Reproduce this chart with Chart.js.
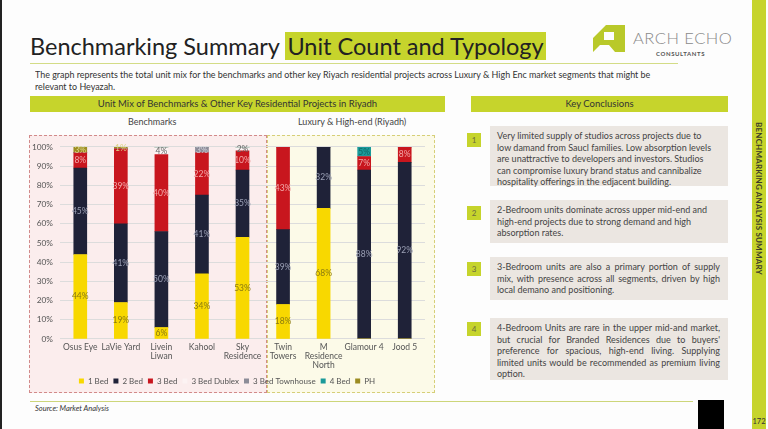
<!DOCTYPE html>
<html>
<head>
<meta charset="utf-8">
<script src="https://cdn.jsdelivr.net/npm/chart.js@4/dist/chart.umd.min.js"></script>
<style>
  html, body { margin: 0; padding: 0; }
  body { width: 768px; height: 429px; position: relative; overflow: hidden; background: #fdfdfd; font-family: Lato, "Open Sans", sans-serif; color: #333; }
  .abs { position: absolute; }
  .lime { background: #c6d42c; }
  #title { left: 30px; top: 31px; font-size: 23.5px; color: #222; white-space: nowrap; line-height: 30px; }
  #title .hl { background: #c6d42c; padding: 0 2px; }
  #rule { left: 30px; top: 63px; width: 648px; height: 1px; background: #d3dc86; }
  #sub { left: 35px; top: 69px; font-size: 9px; line-height: 12px; color: #333; white-space: nowrap; transform-origin: 0 0; }
  .bar { height: 16px; line-height: 16px; text-align: center; font-size: 9.5px; color: #333; }
  .cap { font-size: 9px; color: #444; }
  .num { width: 14px; height: 14px; line-height: 14px; text-align: center; font-size: 8px; color: #6b6b40; }
  .box { background: #ebe6e1; font-size: 9px; line-height: 11.5px; color: #444; padding: 4px 8px 0 7px; box-sizing: border-box; }
  .box.j div { text-align: justify; text-align-last: justify; }
  .box.j div:last-child { text-align-last: left; }
  #band { left: 752px; top: 0; width: 14px; height: 429px; }
  #bandtxt { left: 759px; top: 122px; transform: rotate(90deg); transform-origin: 0 0; font-size: 8px; font-weight: bold; color: #3a3a2a; white-space: nowrap; letter-spacing: 0.2px; line-height: 8px; margin-left: 4px; }
</style>
</head>
<body>
<div class="abs" style="left:0;top:0;width:2px;height:429px;background:#222;"></div>

<div id="title" class="abs">Benchmarking Summary <span class="hl">Unit Count and Typology</span></div>
<svg class="abs" style="left:0;top:0" width="768" height="80">
  <polygon points="593,38 606,25 625,25 625,52 615,52 609,45 600,45 593,52" fill="#b9c92a"/>
  <rect x="604" y="32" width="10" height="8" fill="#fdfdfd"/>
</svg>
<div class="abs" style="left:633px;top:28px;font-size:16.5px;color:#8a8a8a;letter-spacing:0.5px;font-weight:300;">ARCH ECHO</div>
<div class="abs" style="left:656px;top:50px;font-size:6px;font-weight:bold;color:#555;letter-spacing:0.6px;">CONSULTANTS</div>
<div id="rule" class="abs"></div>
<div id="sub" class="abs">The graph represents the total unit mix for the benchmarks and other key Riyach residential projects across Luxury &amp; High Enc market segments that might be<br>relevant to Heyazah.</div>

<div class="abs lime bar" style="left:30px;top:96px;width:415px;">Unit Mix of Benchmarks &amp; Other Key Residential Projects in Riyadh</div>
<div class="abs lime bar" style="left:471px;top:96px;width:257px;">Key Conclusions</div>
<div class="abs cap" style="left:128px;top:116px;">Benchmarks</div>
<div class="abs cap" style="left:298px;top:116px;">Luxury &amp; High-end (Riyadh)</div>

<div class="abs" style="left:29px;top:135px;width:238px;height:258px;background:#fbeded;border:1px dashed #d28a8a;box-sizing:border-box;"></div>
<div class="abs" style="left:267px;top:135px;width:168px;height:258px;background:#fcfae8;border:1px dashed #d6cf78;box-sizing:border-box;"></div>
<div class="abs" style="left:29px;top:135px;width:405px;height:260px;">
  <canvas id="chart" width="405" height="260"></canvas>
</div>

<div class="abs lime num" style="left:467px;top:133px;">1</div>
<div class="abs box" style="left:490px;top:126px;width:238px;height:60px;">
  <div>Very limited supply of studios across projects due to</div>
  <div>low damand from Saucl families. Low absorption levels</div>
  <div>are unattractive to developers and investors. Studios</div>
  <div>can compromise luxury brand status and cannibalize</div>
  <div>hospitality offerings in the edjacent building.</div>
</div>
<div class="abs lime num" style="left:467px;top:206px;">2</div>
<div class="abs box" style="left:490px;top:200px;width:238px;height:43px;">
  <div>2-Bedroom units dominate across upper mid-end and</div>
  <div>high-end projects due to strong demand and high</div>
  <div>absorption rates.</div>
</div>
<div class="abs lime num" style="left:467px;top:262px;">3</div>
<div class="abs box j" style="left:490px;top:257px;width:238px;height:43px;">
  <div>3-Bedroom units are also a primary portion of supply</div>
  <div>mix, with presence across all segments, driven by high</div>
  <div>local demano and positioning.</div>
</div>
<div class="abs lime num" style="left:467px;top:322px;">4</div>
<div class="abs box j" style="left:490px;top:318px;width:238px;height:62px;">
  <div>4-Bedroom Units are rare in the upper mid-and market,</div>
  <div>but crucial for Branded Residences due to buyers'</div>
  <div>preference for spacious, high-end living. Supplying</div>
  <div>limited units would be recommended as premium living</div>
  <div>option.</div>
</div>

<div class="abs" style="left:30px;top:401px;width:663px;height:1px;background:#cdd67a;"></div>
<div class="abs" style="left:698px;top:400px;width:26px;height:29px;background:#000;"></div>
<div class="abs" style="left:35px;top:404px;font-size:7.5px;font-style:italic;color:#333;">Source: Market Analysis</div>

<div id="band" class="abs lime"></div>
<div id="bandtxt" class="abs">BENCHMARKING ANALYSIS SUMMARY</div>
<div class="abs" style="left:752px;top:417px;width:14px;text-align:center;font-size:7.5px;color:#333;">172</div>

<script>
const categories = [['Osus Eye'], ['LaVie Yard'], ['Livein', 'Liwan'], ['Kahool'], ['Sky', 'Residence'],
                    ['Twin', 'Towers'], ['M', 'Residence', 'North'], ['Glamour 4'], ['Jood 5']];
const seriesNames = ['1 Bed', '2 Bed', '3 Bed', '3 Bed Dublex', '3 Bed Townhouse', '4 Bed', 'PH'];
const oneBed        = [44, 19, 6, 34, 53, 18, 68, 0, 0];
const twoBed        = [45, 41, 50, 41, 35, 39, 32, 88, 92];
const threeBed      = [8, 39, 40, 22, 10, 43, 0, 7, 8];
const threeDublex   = [0, 0, 4, 0, 2, 0, 0, 0, 0];
const threeTownhouse= [0, 0, 0, 3, 0, 0, 0, 0, 0];
const fourBed       = [0, 0, 0, 0, 0, 0, 0, 5, 0];
const penthouse     = [3, 1, 0, 0, 0, 0, 0, 0, 0];
const yTicks = [0, 10, 20, 30, 40, 50, 60, 70, 80, 90, 100];

const series = [oneBed, twoBed, threeBed, threeDublex, threeTownhouse, fourBed, penthouse];
const colors = ['#f8d800', '#1f2238', '#c8161e', 'rgba(255,255,255,0.35)', '#8c8c98', '#1b9a9a', '#9c8c22'];
const labelColors = ['#8a7a10', '#9ca1b6', '#f2aaaa', '#666666', '#d0d0d8', '#0d6666', '#dcd486'];

// fit subtitle line to the width in the slide
const sub = document.getElementById('sub');
sub.style.transform = 'scaleX(' + (615 / sub.scrollWidth) + ')';

const segmentLabels = {
  id: 'segmentLabels',
  afterDatasetsDraw(chart) {
    const ctx = chart.ctx;
    chart.data.datasets.forEach((ds, i) => {
      const meta = chart.getDatasetMeta(i);
      meta.data.forEach((bar, j) => {
        const v = ds.data[j];
        if (!v) return;
        ctx.save();
        ctx.font = '8.5px Lato';
        ctx.fillStyle = labelColors[i];
        ctx.textAlign = 'center';
        ctx.textBaseline = 'middle';
        ctx.fillText(v + '%', bar.x, (bar.y + bar.base) / 2);
        ctx.restore();
      });
    });
  }
};

new Chart(document.getElementById('chart'), {
  type: 'bar',
  data: {
    labels: categories,
    datasets: series.map((d, i) => ({
      label: seriesNames[i],
      data: d,
      backgroundColor: colors[i],
      borderWidth: 0,
      barThickness: 13
    }))
  },
  options: {
    responsive: false,
    animation: false,
    layout: { padding: { top: 11, right: 9, left: 0, bottom: 0 } },
    scales: {
      x: {
        stacked: true,
        grid: { display: false, drawTicks: false, tickLength: 0 },
        border: { display: false },
        ticks: { color: '#555', font: { family: 'Lato', size: 8.5, lineHeight: 1.06 }, padding: 4, maxRotation: 0, autoSkip: false },
        afterFit: s => { s.height = 33; }
      },
      y: {
        stacked: true,
        min: 0, max: 100,
        afterBuildTicks: s => { s.ticks = yTicks.map(v => ({ value: v })); },
        grid: { color: '#dcdcdc', lineWidth: 1, drawTicks: false },
        border: { display: false },
        ticks: { color: '#555', font: { family: 'Lato', size: 8.3 }, padding: 7, callback: v => v + '%' },
        afterFit: s => { s.width = 31; }
      }
    },
    plugins: {
      legend: {
        position: 'bottom',
        labels: { boxWidth: 5, boxHeight: 5, padding: 5, color: '#555', font: { family: 'Lato', size: 8 } }
      },
      tooltip: { enabled: false }
    }
  },
  plugins: [segmentLabels]
});
</script>
</body>
</html>
